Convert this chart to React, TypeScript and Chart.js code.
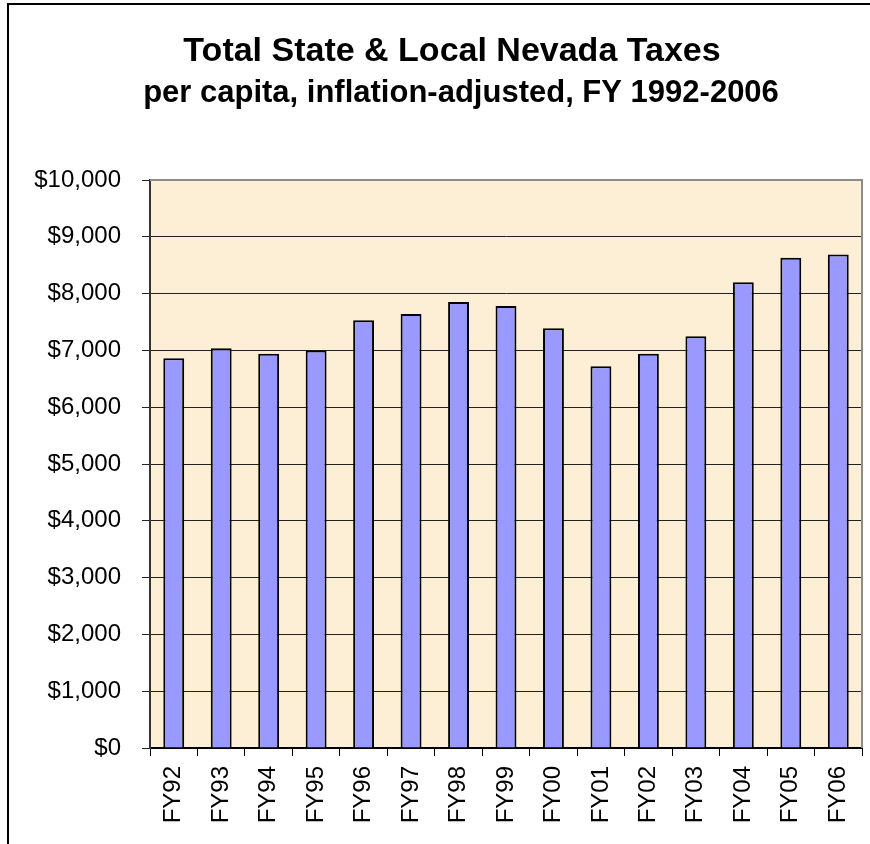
import React, { useEffect, useRef } from "react";
import { Chart, registerables } from "chart.js";

Chart.register(...registerables);

const categories = ["FY92","FY93","FY94","FY95","FY96","FY97","FY98","FY99","FY00","FY01","FY02","FY03","FY04","FY05","FY06"];
const taxesPerCapita = [6860, 7040, 6940, 7000, 7530, 7640, 7850, 7780, 7390, 6720, 6940, 7250, 8200, 8630, 8690];
const titleText = "Total State & Local Nevada Taxes";
const subtitleText = "per capita, inflation-adjusted, FY 1992-2006";
const yMin = 0;
const yMax = 10000;
const yStep = 1000;

const FONT = "'Liberation Sans', Arial, sans-serif";

const decorPlugin = {
  id: "decor",
  beforeDraw(chart: any) {
    const { ctx, chartArea } = chart;
    ctx.save();
    ctx.fillStyle = "#ffffff";
    ctx.fillRect(0, 0, 870, 844);
    ctx.fillStyle = "#FCEFD5";
    ctx.fillRect(chartArea.left, chartArea.top, chartArea.right - chartArea.left, chartArea.bottom - chartArea.top);
    ctx.restore();
  },
  afterDatasetsDraw(chart: any) {
    const { ctx, chartArea } = chart;
    ctx.save();
    ctx.strokeStyle = "#8c8c8c";
    ctx.lineWidth = 2;
    ctx.beginPath();
    ctx.moveTo(chartArea.left, chartArea.top);
    ctx.lineTo(chartArea.right, chartArea.top);
    ctx.lineTo(chartArea.right, chartArea.bottom);
    ctx.stroke();
    ctx.restore();
  },
  afterDraw(chart: any) {
    const { ctx, chartArea } = chart;
    ctx.save();
    ctx.fillStyle = "#ffffff";
    ctx.fillRect(chartArea.right + 2, 0, 870 - chartArea.right, 844);
    ctx.strokeStyle = "#000000";
    ctx.lineWidth = 2;
    ctx.beginPath();
    ctx.moveTo(8, 844);
    ctx.lineTo(8, 4);
    ctx.lineTo(870, 4);
    ctx.stroke();
    ctx.fillStyle = "#000000";
    ctx.textAlign = "center";
    ctx.textBaseline = "middle";
    ctx.font = `bold 34px ${FONT}`;
    ctx.fillText(titleText, 452, 52);
    ctx.font = `bold 31px ${FONT}`;
    ctx.fillText(subtitleText, 461, 93);
    ctx.restore();
  },
};

export default function App() {
  const ref = useRef<HTMLCanvasElement | null>(null);
  useEffect(() => {
    document.body.style.margin = "0";
    document.body.style.overflow = "hidden";
    const canvas = ref.current!;
    const chart = new Chart(canvas, {
      type: "bar",
      data: {
        labels: categories,
        datasets: [
          {
            data: taxesPerCapita,
            backgroundColor: "#9999FF",
            borderColor: "#000000",
            borderWidth: 2,
            barPercentage: 0.44,
            categoryPercentage: 1,
          },
        ],
      },
      options: {
        animation: false,
        responsive: false,
        maintainAspectRatio: false,
        layout: { padding: { top: 180, right: 8, left: 0, bottom: 0 } },
        plugins: {
          legend: { display: false },
          tooltip: { enabled: false },
          title: { display: false },
        },
        scales: {
          x: {
            offset: true,
            grid: {
              offset: true,
              drawOnChartArea: false,
              drawTicks: true,
              tickLength: 8,
              color: "#000000",
              lineWidth: 1,
            },
            border: { color: "#000000", width: 2 },
            ticks: {
              color: "#000000",
              font: { family: FONT, size: 24 },
              maxRotation: 90,
              minRotation: 90,
              padding: 10,
              autoSkip: false,
            },
            afterFit(scale: any) {
              scale.height = 96;
              scale.paddingLeft = 0;
              scale.paddingRight = 0;
            },
          },
          y: {
            min: yMin,
            max: yMax,
            grid: {
              color: "#222222",
              lineWidth: 1,
              tickLength: 8,
              drawTicks: true,
            },
            border: { color: "#333333", width: 2 },
            ticks: {
              stepSize: yStep,
              color: "#000000",
              font: { family: FONT, size: 24 },
              padding: 21,
              callback: (v: any) => "$" + Number(v).toLocaleString("en-US"),
            },
            afterFit(scale: any) {
              scale.width = 150;
            },
          },
        },
      },
      plugins: [decorPlugin],
    });
    return () => chart.destroy();
  }, []);
  return (
    <div style={{ position: "relative", width: 870, height: 844, overflow: "hidden" }}>
      <canvas ref={ref} width={870} height={844} style={{ display: "block", width: 870, height: 844 }} />
    </div>
  );
}
